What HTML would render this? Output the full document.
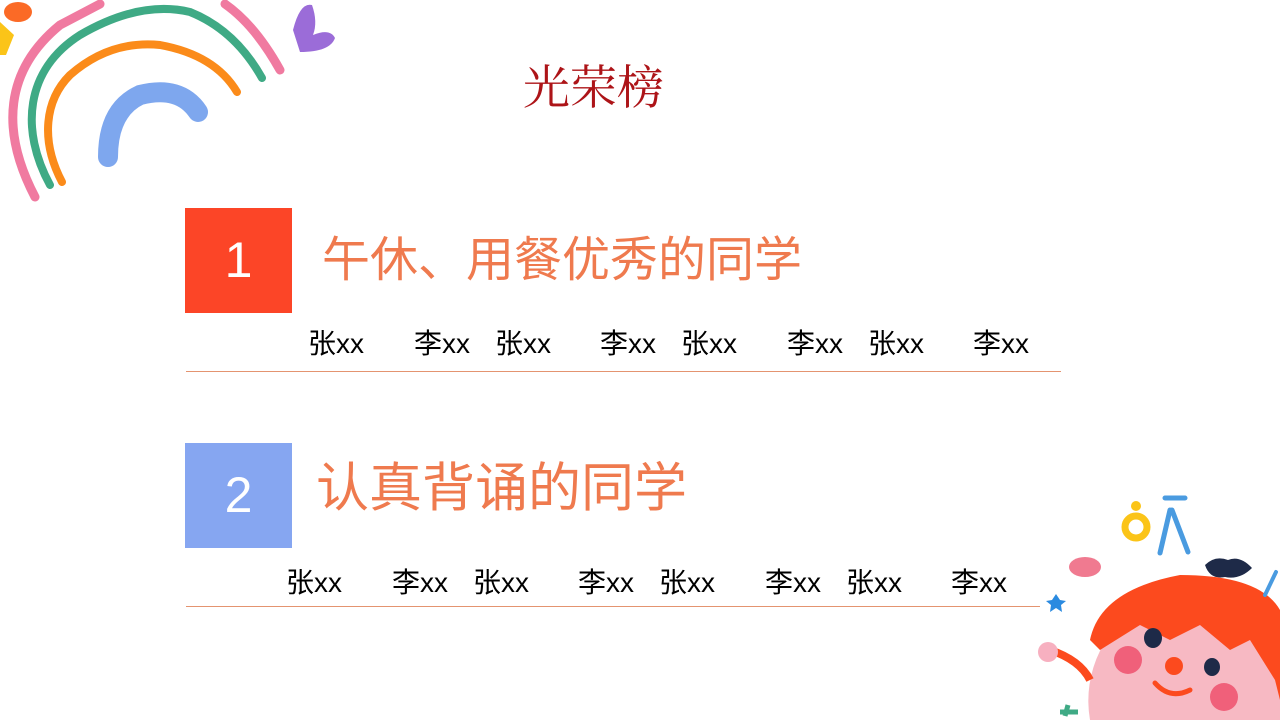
<!DOCTYPE html>
<html><head><meta charset="utf-8"><style>
html,body{margin:0;width:1280px;height:720px;overflow:hidden}
body{background:#fff;position:relative;font-family:"Liberation Sans","Noto Sans CJK SC",sans-serif}
.a{position:absolute;white-space:nowrap}
.box{position:absolute;width:107px;height:105px;color:#fff;font-size:50px;text-align:center;line-height:105px}
.n{position:absolute;font-size:28px;color:#000;line-height:30px}
.line{position:absolute;height:1px;background:#e49470;left:186px}
</style></head><body>
<svg class="a" style="left:0;top:0;overflow:hidden" width="1280" height="720" viewBox="0 0 1280 720">
<g fill="none" stroke-linecap="round">
<path d="M35,197 C0,130 5,70 60,25 L100,4" stroke="#f07aa0" stroke-width="9"/>
<path d="M225,4 Q255,25 280,70" stroke="#f07aa0" stroke-width="9"/>
<path d="M50,185 C20,130 25,70 80,35 Q140,0 190,12 Q235,30 262,78" stroke="#3faa85" stroke-width="8"/>
<path d="M62,182 C40,140 45,100 70,75 Q110,40 160,45 Q215,55 237,92" stroke="#fb8b1a" stroke-width="8"/>
<path d="M108,157 Q108,110 140,95 Q180,85 198,112" stroke="#7ea7ee" stroke-width="20"/>
</g>
<path d="M293,30 Q300,2 312,5 Q318,22 313,35 Q330,28 335,38 Q330,52 300,52 Z" fill="#9b6cd8"/>
<ellipse cx="18" cy="12" rx="14" ry="10" fill="#fb6a26"/>
<path d="M0,22 L14,35 L6,55 L0,55 Z" fill="#fbc418"/>
<ellipse cx="1085" cy="567" rx="16" ry="10" fill="#f07a90"/>
<circle cx="1136" cy="527" r="11" fill="none" stroke="#fbc418" stroke-width="7"/>
<circle cx="1136" cy="506" r="5" fill="#fbc418"/>
<path d="M1165,498 L1185,498 M1170,510 L1160,553 M1172,510 L1188,552" stroke="#4a9be0" stroke-width="5" fill="none" stroke-linecap="round"/>
<path d="M1052,600 l4,-6 4,6 6,1 -5,4 1,7 -6,-4 -6,4 1,-7 -5,-4z" fill="#2a8ae0"/>
<path d="M1205,565 Q1215,555 1228,560 Q1240,555 1252,568 Q1240,580 1225,577 Q1210,580 1205,565Z" fill="#1e2a48"/>
<path d="M1090,720 A112,112 0 0 1 1280,622 L1280,720 Z" fill="#f7b9c3"/>
<path d="M1090,640 Q1100,590 1180,575 Q1260,575 1280,610 L1280,700 L1275,680 L1250,640 L1230,650 L1200,625 L1170,640 L1140,625 L1100,650Z" fill="#fc4a1e"/>
<path d="M1050,650 Q1080,660 1090,680" stroke="#fc4a1e" stroke-width="8" fill="none"/>
<circle cx="1048" cy="652" r="10" fill="#f7b0c0"/>
<ellipse cx="1153" cy="638" rx="9" ry="10" fill="#1e2a48"/>
<ellipse cx="1212" cy="667" rx="8" ry="9" fill="#1e2a48"/>
<circle cx="1128" cy="660" r="14" fill="#f0607a"/>
<circle cx="1224" cy="697" r="14" fill="#f0607a"/>
<circle cx="1174" cy="666" r="9" fill="#fc4a1e"/>
<path d="M1155,683 Q1170,700 1190,690" stroke="#fc4a1e" stroke-width="5" fill="none" stroke-linecap="round"/>
<path d="M1265,595 L1276,572" stroke="#4a9be0" stroke-width="4" stroke-linecap="round"/>
<path d="M1065,716 L1068,705 M1060,712 L1078,712" stroke="#3faa85" stroke-width="5"/>
</svg>
<div class="a" style="left:523px;top:60px;font-size:47px;line-height:58px;color:#ad1418;font-family:'Liberation Serif','Noto Serif CJK SC',serif">光荣榜</div>
<div class="box" style="left:185px;top:208px;background:#fc4527">1</div>
<div class="a" style="left:322px;top:231px;font-size:48px;line-height:60px;color:#ef7a4e">午休、用餐优秀的同学</div>
<div class="box" style="left:185px;top:443px;background:#86a6f1">2</div>
<div class="a" style="left:316px;top:457px;font-size:53px;line-height:64px;color:#ef7a4e">认真背诵的同学</div>
<div class="n" style="left:308px;top:329px">张xx</div><div class="n" style="left:414px;top:329px">李xx</div><div class="n" style="left:495px;top:329px">张xx</div><div class="n" style="left:600px;top:329px">李xx</div><div class="n" style="left:681px;top:329px">张xx</div><div class="n" style="left:787px;top:329px">李xx</div><div class="n" style="left:868px;top:329px">张xx</div><div class="n" style="left:973px;top:329px">李xx</div>
<div class="line" style="top:371px;width:875px"></div>
<div class="n" style="left:286px;top:568px">张xx</div><div class="n" style="left:392px;top:568px">李xx</div><div class="n" style="left:473px;top:568px">张xx</div><div class="n" style="left:578px;top:568px">李xx</div><div class="n" style="left:659px;top:568px">张xx</div><div class="n" style="left:765px;top:568px">李xx</div><div class="n" style="left:846px;top:568px">张xx</div><div class="n" style="left:951px;top:568px">李xx</div>
<div class="line" style="top:606px;width:854px"></div>
</body></html>
